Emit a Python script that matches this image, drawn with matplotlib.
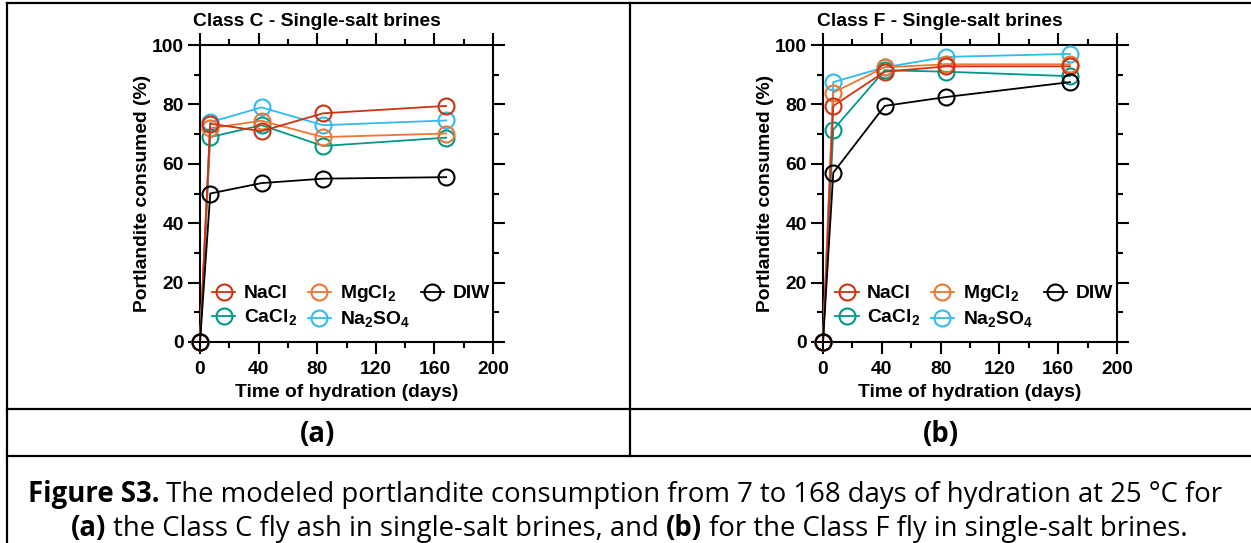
import matplotlib
matplotlib.use("Agg")
import matplotlib.pyplot as plt
from matplotlib.lines import Line2D
from matplotlib.ticker import MultipleLocator

# ---------------- data ----------------
days = [0, 7, 42, 84, 168]
series_names = ["NaCl", "CaCl2", "MgCl2", "Na2SO4", "DIW"]
legend_labels = ["NaCl", r"CaCl$_2$", r"MgCl$_2$", r"Na$_2$SO$_4$", "DIW"]

a_nacl = [0, 73.5, 71.0, 77.0, 79.5]
a_cacl2 = [0, 69.0, 73.0, 66.0, 68.8]
a_mgcl2 = [0, 72.0, 74.5, 69.0, 70.2]
a_na2so4 = [0, 74.0, 79.0, 73.0, 74.6]
a_diw = [0, 50.0, 53.5, 55.0, 55.5]

b_nacl = [0, 79.5, 91.0, 92.8, 92.8]
b_cacl2 = [0, 71.5, 91.5, 91.0, 89.5]
b_mgcl2 = [0, 84.0, 92.5, 93.5, 93.5]
b_na2so4 = [0, 87.5, 92.5, 96.0, 97.0]
b_diw = [0, 57.0, 79.5, 82.5, 87.5]

titles = ["Class C - Single-salt brines", "Class F - Single-salt brines"]
xticks = [0, 40, 80, 120, 160, 200]
yticks = [0, 20, 40, 60, 80, 100]
panel_labels = ["(a)", "(b)"]

colors = {"NaCl": "#CC3311", "CaCl2": "#009988", "MgCl2": "#EE7733",
          "Na2SO4": "#33BBEE", "DIW": "#000000"}

plt.rcParams["font.family"] = ["Liberation Sans", "DejaVu Sans"]
plt.rcParams["mathtext.fontset"] = "custom"
plt.rcParams["mathtext.rm"] = "Liberation Sans:bold"
plt.rcParams["mathtext.default"] = "rm"

FS = 13.9
W, H = 1251, 543
fig = plt.figure(figsize=(W / 100, H / 100), dpi=100)
fig.patch.set_facecolor("white")


def fx(x):
    return x / W


def fy(y):
    return 1 - y / H


def make_panel(left, right, top, bottom, data, title, title_cx):
    ax = fig.add_axes([fx(left), fy(bottom), (right - left) / W, (bottom - top) / H])
    handles = {}
    for name in ["Na2SO4", "CaCl2", "MgCl2", "NaCl", "DIW"]:
        h, = ax.plot(days, data[name], color=colors[name], lw=1.3, marker="o",
                     ms=11.5, mfc="none", mec=colors[name], mew=1.5, clip_on=False,
                     zorder=3)
        handles[name] = h
    ax.set_xlim(0, 200)
    ax.set_ylim(0, 100)
    ax.set_xticks(xticks)
    ax.set_yticks(yticks)
    ax.xaxis.set_minor_locator(MultipleLocator(20))
    ax.yaxis.set_minor_locator(MultipleLocator(10))
    ax.tick_params(which="both", direction="out", top=True, right=True,
                   width=1.5, labelsize=FS)
    ax.tick_params(which="major", length=8.5)
    ax.tick_params(which="minor", length=4)
    ax.tick_params(axis="x", pad=5.0)
    ax.tick_params(axis="y", pad=3.0)
    for lab in ax.get_xticklabels() + ax.get_yticklabels():
        lab.set_fontweight("bold")
    for s in ax.spines.values():
        s.set_linewidth(1.5)
    ax.set_xlabel("Time of hydration (days)", fontsize=FS, fontweight="bold")
    ax.set_ylabel("Portlandite consumed (%)", fontsize=FS, fontweight="bold")
    ax.xaxis.set_label_coords(0.5, -0.14)
    ax.yaxis.set_label_coords(-0.168, 0.5)
    fig.text(fx(title_cx), fy(21), title, ha="center", va="center",
             fontsize=FS, fontweight="bold")
    order = ["NaCl", "CaCl2", "MgCl2", "Na2SO4", "DIW"]
    ax.legend([handles[n] for n in order],
              [legend_labels[series_names.index(n)] for n in order],
              ncol=3, frameon=False, loc="upper left",
              bbox_to_anchor=(0.042, 0.197), borderaxespad=0,
              borderpad=0, handlelength=1.2, handletextpad=0.45,
              columnspacing=0.55, labelspacing=0.25,
              prop={"size": FS, "weight": "bold"})
    return ax


make_panel(200, 493, 45, 342,
           {"NaCl": a_nacl, "CaCl2": a_cacl2, "MgCl2": a_mgcl2,
            "Na2SO4": a_na2so4, "DIW": a_diw}, titles[0], 317)
make_panel(823, 1117, 45, 342,
           {"NaCl": b_nacl, "CaCl2": b_cacl2, "MgCl2": b_mgcl2,
            "Na2SO4": b_na2so4, "DIW": b_diw}, titles[1], 940)

# ---------------- table borders ----------------
def hline(y, x0, x1):
    fig.add_artist(Line2D([fx(x0), fx(x1)], [fy(y), fy(y)], color="black",
                          lw=1.6, transform=fig.transFigure))


def vline(x, y0, y1):
    fig.add_artist(Line2D([fx(x), fx(x)], [fy(y0), fy(y1)], color="black",
                          lw=1.6, transform=fig.transFigure))


hline(3, 7, W)
hline(409, 7, W)
hline(456, 7, W)
vline(7, 3, H)
vline(630, 3, 456)

# ---------------- caption (size fitted to the reference line width) ----------------
cap_family = ["Open Sans", "DejaVu Sans"]
renderer = fig.canvas.get_renderer()

line1 = [("Figure S3.", True),
         (" The modeled portlandite consumption from 7 to 168 days of hydration at 25 °C for", False)]
line2 = [("(a)", True), (" the Class C fly ash in single-salt brines, and ", False),
         ("(b)", True), (" for the Class F fly in single-salt brines.", False)]


def make_runs(parts, size, y):
    texts = []
    for s, bold in parts:
        t = fig.text(0, fy(y), s, ha="left", va="baseline", fontsize=size,
                     fontweight="bold" if bold else "normal", family=cap_family)
        texts.append(t)
    return texts


def run_width(texts):
    return sum(t.get_window_extent(renderer).width for t in texts)


probe = make_runs(line1, 10, 0)
w10 = run_width(probe)
for t in probe:
    t.remove()
cap_size = 10 * 1195 / w10


def rich_line(parts, cx, y):
    texts = make_runs(parts, cap_size, y)
    widths = [t.get_window_extent(renderer).width for t in texts]
    x = cx - sum(widths) / 2
    for t, w in zip(texts, widths):
        t.set_x(fx(x))
        x += w


rich_line(line1, 625, 502)
rich_line(line2, 629, 536)

fig.text(fx(318), fy(434), panel_labels[0], ha="center", va="center",
         fontsize=cap_size, fontweight="bold", family=cap_family)
fig.text(fx(941), fy(434), panel_labels[1], ha="center", va="center",
         fontsize=cap_size, fontweight="bold", family=cap_family)

fig.savefig("out.png", dpi=100)
